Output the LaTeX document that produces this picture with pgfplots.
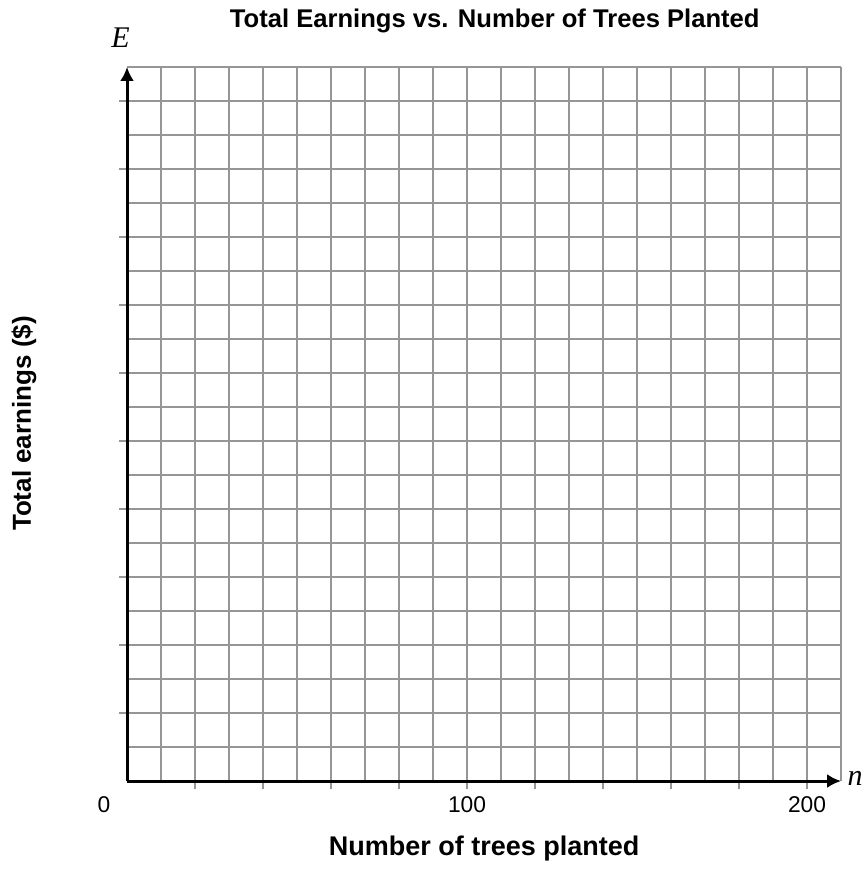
\documentclass[border=0pt]{standalone}
\usepackage{fontspec}
\setmainfont{Liberation Sans}
\newfontfamily\serifit{Liberation Serif}
\usepackage{pgfplots}
\pgfplotsset{compat=1.18}
\usetikzlibrary{arrows.meta}
\definecolor{gridgray}{RGB}{150,150,150}

\begin{document}
\begin{tikzpicture}
\begin{axis}[
  x=1.7pt, y=17pt,
  xmin=0, xmax=210, ymin=0, ymax=21,
  clip=false,
  axis lines=left,
  axis line style={black, line width=1.5pt, -{Latex[length=7pt,width=7pt]}},
  xtick={20,40,...,200},
  xticklabels={,,,,100,,,,,200},
  minor xtick={10,30,...,210},
  ytick={2,4,...,20},
  yticklabels={},
  minor ytick={1,3,...,21},
  grid=both,
  major grid style={gridgray, line width=0.8pt},
  minor grid style={gridgray, line width=0.8pt},
  tick align=outside,
  major tick length=4pt,
  minor tick length=0pt,
  tick style={gridgray, line width=0.8pt},
  extra x ticks={0},
  extra x tick labels={0},
  extra x tick style={grid=none, tick style={draw=none}, xticklabel style={xshift=-11.5pt}},
  tick label style={font=\fontsize{11.4}{13}\selectfont},
  /pgf/number format/assume math mode=true,
  every axis title shift=0pt,
  title={Total Earnings vs. Number of Trees Planted},
  title style={at={(axis description cs:0.515,1.0546)}, anchor=base, inner sep=0pt,
    font=\fontsize{12.8}{15}\selectfont\bfseries},
  xlabel={Number of trees planted},
  xlabel style={at={(axis description cs:0.5,-0.105)}, anchor=base, inner sep=0pt,
    font=\fontsize{13.5}{16}\selectfont\bfseries},
  ylabel={Total earnings (\$)},
  ylabel style={at={(axis description cs:-0.1345,0.5007)}, anchor=base, inner sep=0pt,
    font=\fontsize{13}{15}\selectfont\bfseries},
]
% invisible frame that fixes the page size
\path (axis description cs:-0.1779,-0.126) rectangle (axis description cs:1.0322,1.0938);
\node[anchor=base, inner sep=0pt, font=\fontsize{15}{17}\selectfont\serifit\itshape]
  at (axis description cs:-0.0091,1.0266) {E};
\node[anchor=base, inner sep=0pt, font=\fontsize{15}{17}\selectfont\serifit\itshape]
  at (axis description cs:1.0196,-0.0056) {n};
\end{axis}
\end{tikzpicture}
\end{document}
